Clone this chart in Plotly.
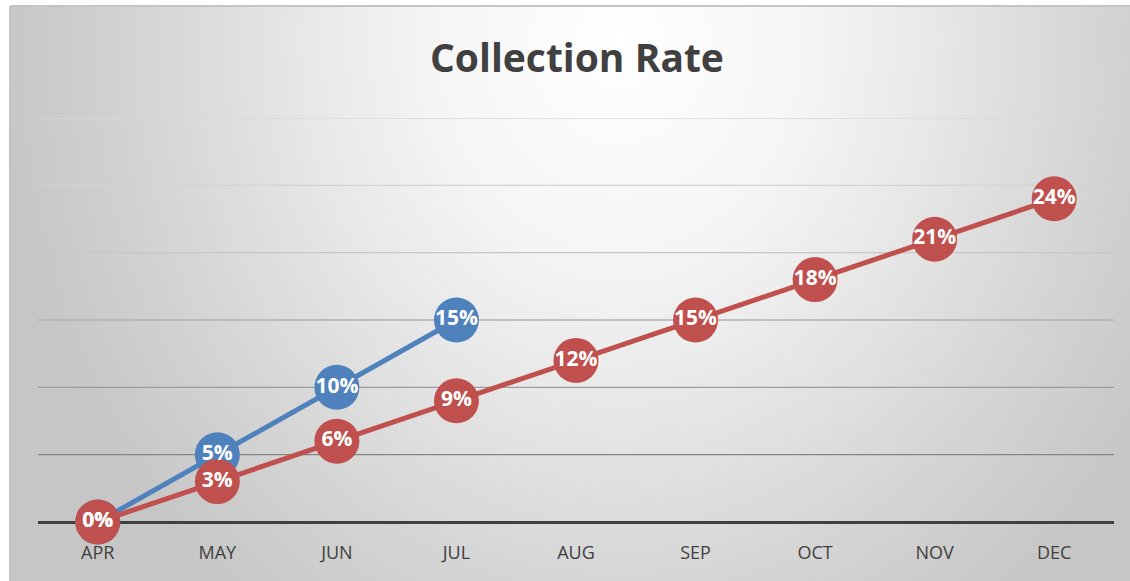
import plotly.graph_objects as go

# ---- data ----
months = ["APR", "MAY", "JUN", "JUL", "AUG", "SEP", "OCT", "NOV", "DEC"]
blue_months = ["APR", "MAY", "JUN", "JUL"]
blue_values = [0.00, 0.05, 0.10, 0.15]
red_values = [0.00, 0.03, 0.06, 0.09, 0.12, 0.15, 0.18, 0.21, 0.24]
grid_values = [0.05, 0.10, 0.15, 0.20, 0.25, 0.30]
grid_colors = ["#858585", "#9c9c9c", "#b0b0b0", "#c6c6c6", "#d3d3d3", "#d8d8d8"]
title_text = "Collection Rate"

BLUE = "#4F81BD"
RED = "#C0504D"
W, H = 1130, 581

fig = go.Figure()

# ---- radial gradient background (pixel-coordinate helper axes) ----
cx, cy, rx, ry = 620, 40, 620, 720
fig.add_trace(go.Scatter(
    x=[cx - rx, cx + rx, cx + rx, cx - rx, cx - rx],
    y=[cy - ry, cy - ry, cy + ry, cy + ry, cy - ry],
    mode="lines", line=dict(width=0), fill="toself",
    fillgradient=dict(type="radial",
                      colorscale=[[0, "#ffffff"], [0.3, "#f5f5f5"],
                                  [0.5, "#e8e8e8"], [0.75, "#d6d6d6"],
                                  [1, "#c6c6c6"]]),
    xaxis="x", yaxis="y", hoverinfo="skip", showlegend=False,
))

# ---- data traces ----
fig.add_trace(go.Scatter(
    x=blue_months, y=blue_values, mode="lines+markers",
    line=dict(color=BLUE, width=5),
    marker=dict(color=BLUE, size=45),
    cliponaxis=False,
    xaxis="x2", yaxis="y2", hoverinfo="skip", showlegend=False,
))
fig.add_trace(go.Scatter(
    x=months, y=red_values, mode="lines+markers",
    line=dict(color=RED, width=5),
    marker=dict(color=RED, size=45),
    cliponaxis=False,
    xaxis="x2", yaxis="y2", hoverinfo="skip", showlegend=False,
))
lab_font = dict(family="Open Sans", size=21, color="white", weight="bold")
fig.add_trace(go.Scatter(
    x=blue_months, y=blue_values, mode="text",
    text=[f"{v*100:.0f}%" for v in blue_values],
    textposition="middle center", textfont=lab_font, cliponaxis=False,
    xaxis="x2", yaxis="y2", hoverinfo="skip", showlegend=False,
))
fig.add_trace(go.Scatter(
    x=months, y=red_values, mode="text",
    text=[f"{v*100:.0f}%" for v in red_values],
    textposition="middle center", textfont=lab_font, cliponaxis=False,
    xaxis="x2", yaxis="y2", hoverinfo="skip", showlegend=False,
))

# ---- gridlines ----
shapes = []
for gv, gc in zip(grid_values, grid_colors):
    shapes.append(dict(type="line", xref="x2", yref="y2",
                       x0=-0.5, x1=len(months) - 0.5, y0=gv, y1=gv,
                       line=dict(color=gc, width=1.3), layer="between"))
# chart border (top / left)
shapes.append(dict(type="line", xref="paper", yref="paper",
                   x0=10 / W, x1=1, y0=1 - 6 / H, y1=1 - 6 / H,
                   line=dict(color="#c4c4c4", width=2)))
shapes.append(dict(type="line", xref="paper", yref="paper",
                   x0=10 / W, x1=10 / W, y0=0, y1=1 - 6 / H,
                   line=dict(color="#c4c4c4", width=2)))

fig.update_layout(
    width=W, height=H,
    margin=dict(l=0, r=0, t=0, b=0),
    paper_bgcolor="white",
    plot_bgcolor="rgba(0,0,0,0)",
    showlegend=False,
    hovermode=False,
    xaxis=dict(domain=[10 / W, 1], range=[10, W], visible=False, fixedrange=True),
    yaxis=dict(domain=[0, 1 - 6 / H], range=[H, 6], visible=False, fixedrange=True),
    xaxis2=dict(domain=[38 / W, 1114 / W], type="category",
                categoryorder="array", categoryarray=months,
                range=[-0.5, len(months) - 0.5], anchor="y2",
                showgrid=False, showline=False, zeroline=False, ticks="",
                tickfont=dict(family="Open Sans", size=18, color="#404040"),
                ticklabelstandoff=18, fixedrange=True),
    yaxis2=dict(domain=[(H - 522) / H, (H - 118) / H], range=[0, 0.30],
                anchor="x2", showgrid=False, showticklabels=False,
                zeroline=True, zerolinecolor="#404040", zerolinewidth=3,
                showline=False, ticks="", fixedrange=True),
    shapes=shapes,
    annotations=[dict(text=title_text, xref="paper", yref="paper",
                      x=576.5 / W, y=1 - 57 / H, xanchor="center", yanchor="middle",
                      showarrow=False,
                      font=dict(family="Open Sans", size=39, color="#404040",
                                weight="bold"))],
)

fig.write_html("out.html", config={"displayModeBar": False},
               post_script="document.body.style.margin='0';"
                           "document.body.style.overflow='hidden';")
